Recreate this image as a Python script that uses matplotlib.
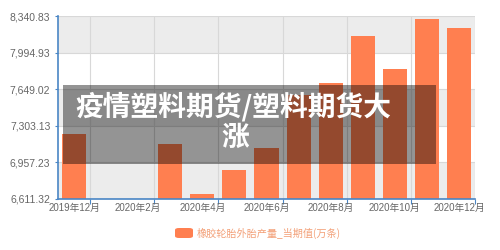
import matplotlib.pyplot as plt
import numpy as np
from matplotlib.patches import Rectangle, FancyBboxPatch

# dados
meses = ['2019年12月', '2020年1月', '2020年2月', '2020年3月', '2020年4月', '2020年5月',
         '2020年6月', '2020年7月', '2020年8月', '2020年9月', '2020年10月', '2020年11月', '2020年12月']
producao = [7223, np.nan, np.nan, 7131, 6656, 6885, 7096, 7594, 7707, 8151, 7840, 8312, 8224]
y_ticks = [6611.32, 6957.23, 7303.13, 7649.02, 7994.93, 8340.83]
y_labels = ['6,611.32', '6,957.23', '7,303.13', '7,649.02', '7,994.93', '8,340.83']
serie_nome = '橡胶轮胎外胎产量_当期值(万条)'
titulo_l1 = '疫情塑料期货/塑料期货大'
titulo_l2 = '涨'

plt.rcParams['font.family'] = ['Liberation Sans', 'Noto Sans CJK SC', 'DejaVu Sans']

azul = '#4a86c5'
laranja = '#ff7f50'

fig = plt.figure(figsize=(5, 2.5), dpi=100)
ax = fig.add_axes([0.116, 0.204, 0.834, 0.732])

x = np.arange(len(meses))
ax.set_xlim(-0.5, len(meses) - 0.5)
ax.set_ylim(y_ticks[0], y_ticks[-1])

# faixas alternadas no fundo
for i in range(len(y_ticks) - 1):
    cor = '#ececec' if i % 2 == 0 else '#ffffff'
    ax.axhspan(y_ticks[i], y_ticks[i + 1], color=cor, zorder=0, lw=0)
for yv in y_ticks:
    ax.axhline(yv, color='#d8d8d8', lw=0.8, zorder=1)
fronteiras = np.arange(0.5, len(meses), 2)
for xv in fronteiras:
    ax.axvline(xv, color='#d8d8d8', lw=0.8, zorder=1)

ax.bar(x, producao, width=0.75, color=laranja, zorder=2)

# eixos
for s in ['top', 'right']:
    ax.spines[s].set_visible(False)
for s in ['left', 'bottom']:
    ax.spines[s].set_color(azul)
    ax.spines[s].set_linewidth(1.2)
    ax.spines[s].set_zorder(3)

ax.set_yticks(y_ticks, y_labels)
ax.tick_params(axis='y', length=2.5, color=azul, labelsize=7.5, labelcolor='#666666', pad=3)
ax.set_xticks(fronteiras, [''] * len(fronteiras))
ax.tick_params(axis='x', which='major', length=3.5, color=azul)
ax.set_xticks(x[::2], meses[::2], minor=True)
ax.tick_params(axis='x', which='minor', length=0, labelsize=7, labelcolor='#666666', pad=3)

# legenda
fig.add_artist(FancyBboxPatch((175 / 500, 1 - 238 / 250), 18 / 500, 10 / 250,
                              boxstyle='round,pad=0,rounding_size=0.008',
                              transform=fig.transFigure, color=laranja, lw=0))
fig.text(197 / 500, 1 - 233.5 / 250, serie_nome, fontsize=7.3, color='#f3a078',
         ha='left', va='center', family=['Noto Sans CJK SC', 'DejaVu Sans'])

# faixa do título por cima
fig.add_artist(Rectangle((63 / 500, 1 - 164 / 250), 373 / 500, 79 / 250,
                         transform=fig.transFigure, color='black', alpha=0.42, lw=0, zorder=10))
fig.text(233 / 500, 1 - 107 / 250, titulo_l1, fontsize=20, fontweight='black', color='white',
         ha='center', va='center', family=['Noto Sans CJK SC', 'DejaVu Sans'], zorder=11)
fig.text(235 / 500, 1 - 138 / 250, titulo_l2, fontsize=20, fontweight='black', color='white',
         ha='center', va='center', family=['Noto Sans CJK SC', 'DejaVu Sans'], zorder=11)

fig.savefig('out.png', dpi=100)
